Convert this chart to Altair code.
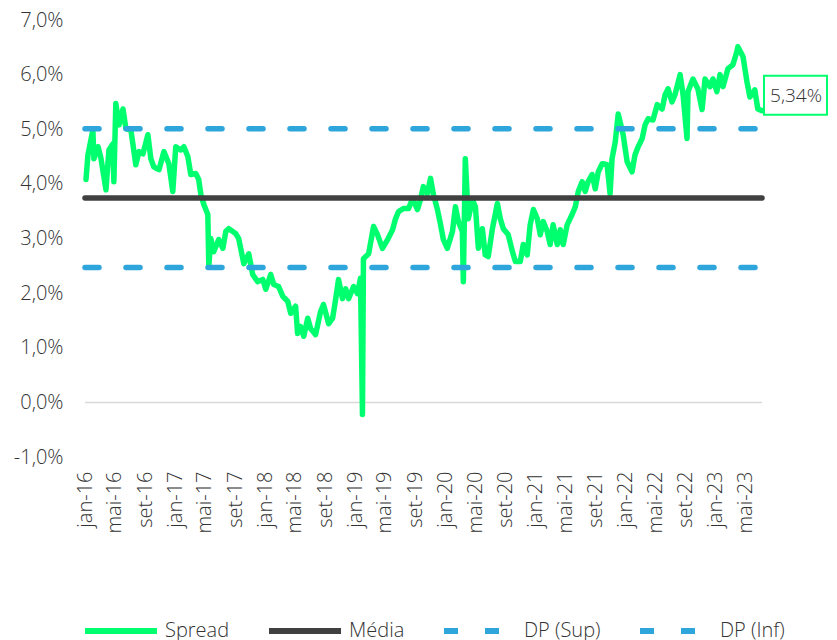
import altair as alt
import pandas as pd

# ---------------- data ----------------
dates = [
    "2016-01-05", "2016-01-13", "2016-02-02", "2016-02-06", "2016-02-23", "2016-03-06", "2016-03-26",
    "2016-04-07", "2016-04-23", "2016-04-27", "2016-05-05", "2016-05-18", "2016-06-03", "2016-06-15",
    "2016-07-05", "2016-07-25", "2016-08-07", "2016-08-23", "2016-09-12", "2016-09-24", "2016-10-06",
    "2016-10-27", "2016-11-16", "2016-12-06", "2016-12-22", "2017-01-03", "2017-01-24", "2017-02-05",
    "2017-02-21", "2017-03-05", "2017-03-25", "2017-04-06", "2017-04-15", "2017-04-27", "2017-05-13",
    "2017-05-17", "2017-05-25", "2017-06-06", "2017-06-26", "2017-07-13", "2017-07-25", "2017-08-06",
    "2017-09-03", "2017-09-15", "2017-10-06", "2017-10-26", "2017-11-11", "2017-12-01", "2017-12-22",
    "2018-01-03", "2018-01-23", "2018-02-04", "2018-02-24", "2018-03-13", "2018-04-02", "2018-04-14",
    "2018-05-04", "2018-05-12", "2018-05-24", "2018-06-06", "2018-06-22", "2018-07-04", "2018-07-24",
    "2018-08-13", "2018-08-25", "2018-09-15", "2018-10-01", "2018-10-13", "2018-10-25", "2018-11-10",
    "2018-11-23", "2018-12-05", "2018-12-25", "2019-01-10", "2019-01-22", "2019-01-30", "2019-02-03",
    "2019-02-24", "2019-03-16", "2019-04-01", "2019-04-21", "2019-05-12", "2019-06-01", "2019-06-13",
    "2019-06-25", "2019-07-15", "2019-08-05", "2019-08-21", "2019-09-10", "2019-09-22", "2019-10-04",
    "2019-10-20", "2019-11-02", "2019-11-14", "2019-11-30", "2019-12-12", "2019-12-24", "2020-01-09",
    "2020-01-30", "2020-02-11", "2020-02-23", "2020-03-10", "2020-03-14", "2020-03-22", "2020-04-03",
    "2020-04-20", "2020-05-02", "2020-05-14", "2020-05-30", "2020-06-11", "2020-06-23", "2020-07-10",
    "2020-07-30", "2020-08-11", "2020-08-23", "2020-09-12", "2020-09-29", "2020-10-11", "2020-10-31",
    "2020-11-12", "2020-11-28", "2020-12-10", "2020-12-23", "2021-01-08", "2021-01-20", "2021-02-01",
    "2021-02-17", "2021-03-01", "2021-03-13", "2021-03-30", "2021-04-11", "2021-04-23", "2021-05-09",
    "2021-05-29", "2021-06-11", "2021-06-23", "2021-07-09", "2021-07-21", "2021-08-02", "2021-08-18",
    "2021-08-31", "2021-09-12", "2021-09-28", "2021-10-18", "2021-10-30", "2021-11-07", "2021-11-20",
    "2021-12-02", "2021-12-22", "2022-01-07", "2022-01-27", "2022-02-08", "2022-02-21", "2022-03-09",
    "2022-03-21", "2022-04-02", "2022-04-22", "2022-05-09", "2022-05-29", "2022-06-10", "2022-06-22",
    "2022-07-08", "2022-07-20", "2022-08-10", "2022-08-22", "2022-09-07", "2022-09-11", "2022-10-01",
    "2022-10-21", "2022-11-07", "2022-11-19", "2022-12-09", "2022-12-21", "2023-01-06", "2023-01-19",
    "2023-01-31", "2023-02-20", "2023-03-12", "2023-03-28", "2023-04-01", "2023-04-22", "2023-05-08",
    "2023-05-20", "2023-06-09", "2023-06-21", "2023-07-08",
]
spread = [
    4.08, 4.53, 4.99, 4.46, 4.68, 4.46, 3.89,
    4.62, 4.73, 4.04, 5.47, 5.08, 5.37, 5.01,
    4.99, 4.35, 4.59, 4.55, 4.90, 4.46, 4.31,
    4.26, 4.59, 4.37, 3.86, 4.68, 4.62, 4.68,
    4.50, 4.17, 4.19, 4.08, 3.80, 3.62, 3.44,
    2.49, 3.00, 2.76, 2.98, 2.82, 3.13, 3.18,
    3.09, 3.00, 2.54, 2.72, 2.34, 2.21, 2.25,
    2.07, 2.34, 2.16, 2.12, 1.94, 1.85, 1.63,
    1.76, 1.26, 1.39, 1.21, 1.54, 1.35, 1.24,
    1.66, 1.79, 1.44, 1.54, 1.88, 2.25, 1.90,
    2.08, 1.90, 2.12, 1.99, 2.27, -0.22, 2.63,
    2.72, 3.22, 3.07, 2.82, 2.98, 3.16, 3.36,
    3.49, 3.55, 3.55, 3.73, 3.53, 3.71, 3.95,
    3.82, 4.10, 3.80, 3.53, 3.27, 2.98, 2.82,
    3.13, 3.58, 3.31, 3.13, 2.21, 4.46, 3.36,
    3.71, 3.58, 2.82, 3.18, 2.70, 2.67, 3.18,
    3.64, 3.36, 3.18, 3.07, 2.76, 2.58, 2.58,
    2.89, 2.70, 3.25, 3.53, 3.36, 3.07, 3.31,
    3.13, 2.89, 3.25, 2.89, 3.16, 2.89, 3.25,
    3.44, 3.58, 3.86, 4.04, 3.86, 4.04, 4.17,
    3.91, 4.22, 4.37, 4.35, 3.82, 4.46, 4.77,
    5.28, 4.90, 4.41, 4.22, 4.53, 4.68, 4.83,
    5.08, 5.19, 5.17, 5.45, 5.37, 5.63, 5.74,
    5.50, 5.63, 6.00, 5.63, 4.83, 5.69, 5.92,
    5.74, 5.36, 5.92, 5.78, 5.92, 5.69, 6.00,
    5.78, 6.11, 6.18, 6.42, 6.51, 6.33, 5.87,
    5.59, 5.72, 5.37, 5.34,
]
media = 3.74
dp_sup = 5.01
dp_inf = 2.47
series = ["Spread", "Média", "DP (Sup)", "DP (Inf)"]
series_colors = ["#00FF6E", "#404040", "#2EA6DC", "#2EA6DC"]
range_start = "2016-01-01"
range_end = "2023-07-08"
x_tick_months = [(2016 + i // 3, [1, 5, 9][i % 3]) for i in range(23)]
y_ticks = [-1, 0, 1, 2, 3, 4, 5, 6, 7]
month_names = ["jan", "fev", "mar", "abr", "mai", "jun", "jul", "ago", "set", "out", "nov", "dez"]
last_label = "5,34%"

FONT = "Open Sans"
TXT = "#333333"

# ---------------- tables ----------------
df_spread = pd.DataFrame({"date": dates, "valor": spread, "serie": "Spread"})
df_ref = pd.DataFrame({
    "date": [range_start, range_end] * 3,
    "valor": [media, media, dp_sup, dp_sup, dp_inf, dp_inf],
    "serie": ["Média", "Média", "DP (Sup)", "DP (Sup)", "DP (Inf)", "DP (Inf)"],
})
df_last = pd.DataFrame({"date": [dates[-1]], "valor": [spread[-1]], "label": [last_label]})


def dt(y, m, d=1):
    return alt.DateTime(year=y, month=m, date=d, utc=True)


x_scale = alt.Scale(type="utc", domain=[dt(2016, 1, 1), dt(2023, 7, 8)])
month_js = "[" + ",".join("'%s'" % m for m in month_names) + "]"
x_axis = alt.Axis(
    values=[dt(y, m) for y, m in x_tick_months],
    labelExpr=month_js + "[utcmonth(datum.value)] + '-' + utcFormat(datum.value, '%y')",
    labelAngle=-90, labelFontSize=20, labelFont=FONT, labelFontWeight=300, labelColor=TXT,
    labelPadding=14, labelOverlap=False, domain=False, ticks=False, grid=False, title=None,
)
y_scale = alt.Scale(domain=[-1, 7], nice=False, zero=False)
y_axis = alt.Axis(
    values=y_ticks,
    labelExpr="(datum.value < 0 ? '-' : '') + replace(format(abs(datum.value), '.1f'), '.', ',') + '%'",
    labelFontSize=20, labelFont=FONT, labelFontWeight=300, labelColor=TXT, labelPadding=22,
    domain=False, ticks=False, grid=False, title=None,
)

color_enc = alt.Color(
    "serie:N",
    scale=alt.Scale(domain=series, range=series_colors),
    legend=alt.Legend(
        title=None, orient="none", legendX=-3, legendY=572, direction="horizontal", columns=4,
        symbolType="stroke", symbolSize=5184, symbolStrokeWidth=6, labelFontSize=20,
        labelFont=FONT, labelFontWeight=300, labelColor=TXT, labelOffset=5, columnPadding=27,
        symbolOpacity=1, padding=0,
    ),
)
dash_enc = alt.StrokeDash(
    "serie:N",
    scale=alt.Scale(domain=series, range=[[1, 0], [1, 0], [14, 27], [14, 27]]),
    legend=alt.Legend(title=None),
)

base_x = alt.X("date:T", scale=x_scale, axis=x_axis)
base_y = alt.Y("valor:Q", scale=y_scale, axis=y_axis)

zero_rule = alt.Chart(pd.DataFrame({"v": [0]})).mark_rule(color="#D9D9D9", strokeWidth=1.5).encode(
    y=alt.Y("v:Q", scale=y_scale, axis=y_axis)
)

spread_line = alt.Chart(df_spread).mark_line(strokeWidth=5.5, strokeJoin="round", strokeCap="round").encode(
    x=base_x, y=base_y, color=color_enc, strokeDash=dash_enc
)
ref_lines = alt.Chart(df_ref).mark_line(strokeWidth=5.5, strokeCap="round").encode(
    x=base_x, y=base_y, color=color_enc, strokeDash=dash_enc, detail="serie:N"
)

box = alt.Chart(df_last).mark_rect(
    fill="white", stroke="#00FF6E", strokeWidth=2,
    xOffset=2, x2Offset=65, yOffset=-35, y2Offset=4,
).encode(x=base_x, x2="date:T", y=base_y, y2="valor:Q")

box_text = alt.Chart(df_last).mark_text(
    font=FONT, fontSize=19, fontWeight=300, color=TXT, align="center", baseline="middle",
    dx=34, dy=-15,
).encode(x=base_x, y=base_y, text="label:N")

chart = alt.layer(zero_rule, spread_line, ref_lines, box, box_text).properties(
    width=677, height=437,
    autosize=alt.AutoSizeParams(type="none"),
    padding={"left": 77, "top": 12, "right": 67, "bottom": 183},
).configure_view(stroke=None)

chart.save("out.html", embed_options={"renderer": "svg", "actions": False})
